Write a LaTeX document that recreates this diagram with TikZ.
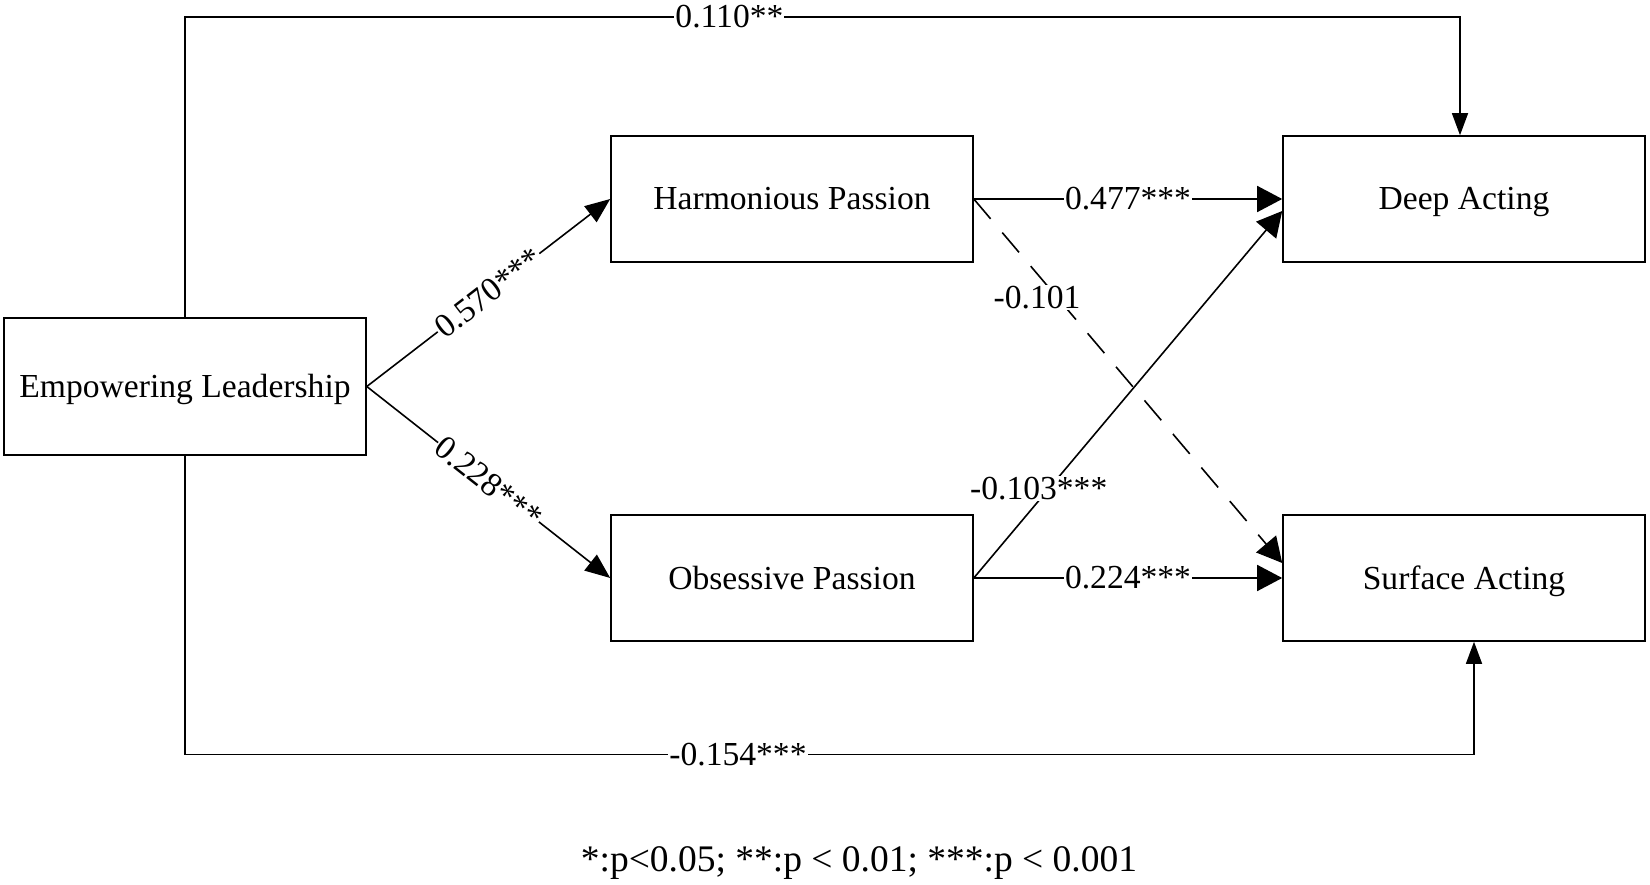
\documentclass[tikz,border=0pt]{standalone}
\usepackage{fontspec}
\setmainfont{Liberation Serif}
\usetikzlibrary{arrows.meta,calc}
\begin{document}
\begin{tikzpicture}[x=1pt,y=-1pt,
  font=\fontsize{33.6}{40}\selectfont,
  box/.style={draw,line width=1.6pt,minimum width=362pt,minimum height=126pt,inner sep=0pt,text height=22pt,text depth=0pt},
  con/.style={line width=1.6pt},
  arr/.style={con,-{Triangle[length=25pt,width=20pt]}},
  arrw/.style={con,-{Triangle[length=25pt,width=26pt]}},
  arrs/.style={con,-{Triangle[length=22pt,width=16pt]}},
  lab/.style={fill=white,inner sep=1pt}]
\useasboundingbox (0,0) rectangle (1650,885);
\node[box,minimum height=137pt] (EL) at (185,386.5) {Empowering Leadership};
\node[box] (HP) at (792,199) {Harmonious Passion};
\node[box] (OP) at (792,578) {Obsessive Passion};
\node[box] (DA) at (1464,199) {Deep Acting};
\node[box] (SA) at (1464,578) {Surface Acting};
\coordinate (tl) at (185,17);
\coordinate (tr) at (1460,17);
\coordinate (bl) at (185,754.5);
\coordinate (br) at (1474,754.5);
\draw[arrs] (EL.north) -- (tl) -- node[lab,pos=0.427]{0.110**} (tr) -- (tr |- DA.north);
\draw[arrs] (EL.south) -- (bl) -- node[lab,pos=0.429]{-0.154***} (br) -- (br |- SA.south);
\draw[arr] (EL.east) -- node[lab,sloped,pos=0.5]{0.570***} (HP.west);
\draw[arr] (EL.east) -- node[lab,sloped,pos=0.5]{0.228***} (OP.west);
\draw[arrw] (HP.east) -- node[lab,pos=0.5]{0.477***} (DA.west);
\draw[arrw] (OP.east) -- node[lab,pos=0.5]{0.224***} (SA.west);
\draw[arrw,dash pattern=on 26pt off 18pt] (HP.east) -- node[lab,pos=0.27,xshift=-20pt]{-0.101} ($(SA.west)+(0,-15)$);
\draw[arrw] (OP.east) -- node[lab,pos=0.243,xshift=-10pt]{-0.103***} ($(DA.west)+(0,12)$);
\node[font=\fontsize{37.5}{44}\selectfont] (note) at (859,863) {*:p<0.05; **:p < 0.01; ***:p < 0.001};
\end{tikzpicture}
\end{document}
